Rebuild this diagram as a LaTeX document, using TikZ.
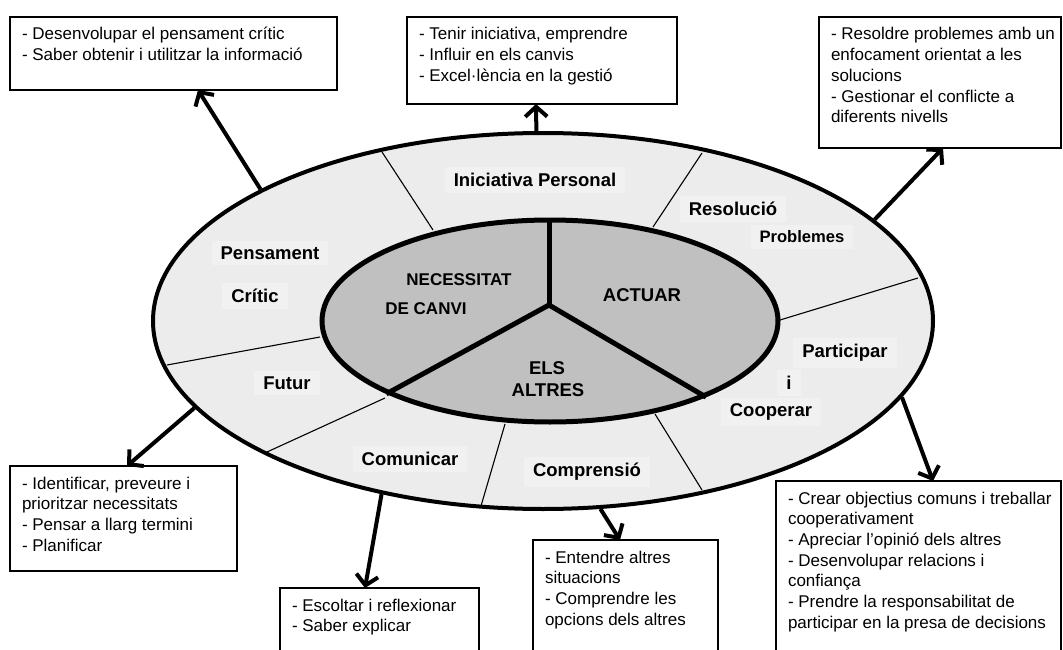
\documentclass[tikz,border=0pt]{standalone}
\usepackage{fontspec}
\setmainfont{Liberation Sans}
\usetikzlibrary{shapes.geometric,arrows.meta}
\definecolor{ringgray}{RGB}{236,236,236}
\definecolor{labelgray}{RGB}{241,241,241}
\definecolor{coregray}{RGB}{192,192,192}
\newcommand\infotext[3]{\parbox[t][#2][t]{#1}{\raggedright\leftskip=12pt\rightskip=-30pt plus 1fil\relax\rule{0pt}{23pt}#3}}
\begin{document}
\begin{tikzpicture}[x=1pt,y=-1pt,
  infobox/.style={draw, line width=1.5pt, fill=white, inner sep=0pt, outer sep=0pt, anchor=north west, font=\fontsize{17}{20.7}\selectfont},
  ringlabel/.style={fill=labelgray, inner xsep=9pt, inner ysep=6pt, font=\bfseries\fontsize{18.5}{22}\selectfont},
  corelabel/.style={inner sep=1pt, font=\bfseries\fontsize{18.5}{20}\selectfont},
  divider/.style={line width=1.1pt},
  spoke/.style={line width=5pt},
  conn/.style={line width=4pt, -{Straight Barb[length=10pt,width=22pt]}},
]
\useasboundingbox (0,0) rectangle (1063,650);
\clip (0,0) rectangle (1063,650);

% outer ring
\node[ellipse, draw, line width=4pt, fill=ringgray, minimum width=780pt, minimum height=376pt, inner sep=0pt] (outer) at (543,321) {};

% dividers of the ring
\draw[divider] (433,230) -- (382,152);
\draw[divider] (653,227) -- (702,153);
\draw[divider] (780,320) -- (918,278);
\draw[divider] (655,414) -- (702,490);
\draw[divider] (505,424) -- (481,506);
\draw[divider] (385,398) -- (267,452);
\draw[divider] (320,337) -- (167,365);

% inner core
\node[ellipse, draw, line width=5pt, fill=coregray, minimum width=456pt, minimum height=202pt, inner sep=0pt] (inner) at (550,321) {};
\coordinate (hub) at (549,305);
\draw[spoke] (hub) -- (hub |- inner.north);
\draw[spoke] (hub) -- (inner.204);
\draw[spoke] (hub) -- (inner.334);

% ring labels
\node[ringlabel] (l1) at (535,180) {Iniciativa Personal};
\node[ringlabel] (l2) at (270,253) {Pensament};
\node[ringlabel] (l3) at (255,296) {Crític};
\node[ringlabel] (l4) at (287,383) {Futur};
\node[ringlabel] (l5) at (733,209) {Resolució};
\node[ringlabel, font=\bfseries\fontsize{16.6}{20}\selectfont] (l6) at (802,237) {Problemes};
\node[ringlabel] (l7) at (845,353) {Participar};
\node[ringlabel] (l8) at (789,383) {i};
\node[ringlabel] (l9) at (771,412) {Cooperar};
\node[ringlabel] (l10) at (587,472) {Comprensió};
\node[ringlabel] (l11) at (410,459) {Comunicar};

% core labels
\node[corelabel, font=\bfseries\fontsize{17}{20}\selectfont] (c1) at (459,280) {NECESSITAT};
\node[corelabel, font=\bfseries\fontsize{17}{20}\selectfont] (c2) at (426,309) {DE CANVI};
\node[corelabel] (c3) at (642,295) {ACTUAR};
\node[corelabel] (c4) at (547,368) {ELS};
\node[corelabel] (c5) at (548,390) {ALTRES};

% boxes
\node[infobox] (b1) at (10,17) {\infotext{327pt}{73pt}{- Desenvolupar el pensament crític\\- Saber obtenir i utilitzar la informació}};
\node[infobox] (b2) at (407,17) {\infotext{270pt}{87pt}{- Tenir iniciativa, emprendre\\- Influir en els canvis\\- Excel·lència en la gestió}};
\node[infobox] (b3) at (819,17) {\infotext{242pt}{131pt}{- Resoldre problemes amb un\\enfocament orientat a les\\solucions\\- Gestionar el conflicte a\\diferents nivells}};
\node[infobox] (b4) at (10,466) {\infotext{227pt}{105pt}{- Identificar, preveure i\\prioritzar necessitats\\- Pensar a llarg termini\\- Planificar}};
\node[infobox] (b5) at (280,588) {\infotext{199pt}{80pt}{- Escoltar i reflexionar\\- Saber explicar}};
\node[infobox] (b6) at (533,540) {\infotext{185pt}{125pt}{- Entendre altres\\situacions\\- Comprendre les\\opcions dels altres}};
\node[infobox] (b7) at (776,481) {\infotext{285pt}{185pt}{- Crear objectius comuns i treballar\\cooperativament\\- Apreciar l’opinió dels altres\\- Desenvolupar relacions i\\confiança\\- Prendre la responsabilitat de\\participar en la presa de decisions}};

% arrows
\draw[conn] (outer.155) -- (198,0 |- b1.south);
\draw[conn] (outer.92) -- (536,0 |- b2.south);
\draw[conn] (outer.17) -- (943,0 |- b3.south);
\draw[conn] (outer.194) -- (127,0 |- b4.north);
\draw[conn] (outer.227) -- (365,0 |- b5.north);
\draw[conn] (outer.287) -- (620,0 |- b6.north);
\draw[conn] (outer.348) -- (933,0 |- b7.north);
\end{tikzpicture}
\end{document}
